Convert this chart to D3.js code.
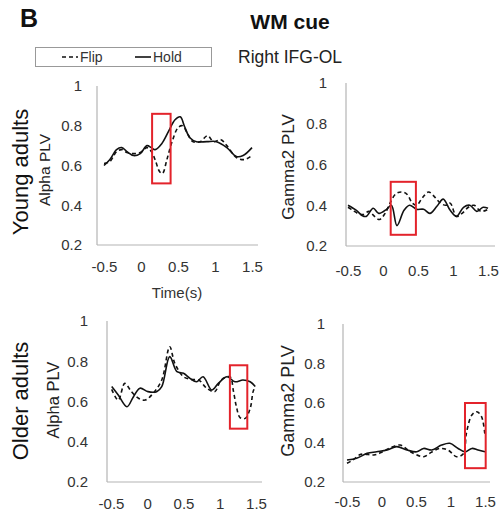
<!DOCTYPE html>
<html>
<head>
<meta charset="utf-8">
<script src="https://cdn.jsdelivr.net/npm/d3@7"></script>
<style>
  body { margin: 0; background: #fff; }
  svg { font-family: "Liberation Sans", Arial, sans-serif; }
</style>
</head>
<body>
<div id="chart"></div>
<script>
// values: [time (s), PLV]
var xTicks = [-0.5, 0, 0.5, 1, 1.5];
var yTicks = [0.2, 0.4, 0.6, 0.8, 1];
var seriesNames = ['Flip', 'Hold'];
var groupNames = ['Young adults', 'Older adults'];
var bandNames = ['Alpha PLV', 'Gamma2 PLV'];

var youngAlphaFlip = [[-0.5,0.61],[-0.42,0.62],[-0.33,0.67],[-0.26,0.68],[-0.19,0.665],[-0.1,0.66],[-0.01,0.665],[0.08,0.69],[0.14,0.67],[0.19,0.63],[0.25,0.57],[0.29,0.56],[0.35,0.63],[0.42,0.72],[0.5,0.79],[0.56,0.80],[0.63,0.76],[0.7,0.72],[0.8,0.72],[0.9,0.75],[0.98,0.72],[1.08,0.73],[1.16,0.70],[1.29,0.64],[1.4,0.63],[1.5,0.65]];
var youngAlphaHold = [[-0.5,0.60],[-0.42,0.63],[-0.33,0.68],[-0.26,0.69],[-0.19,0.67],[-0.1,0.65],[-0.01,0.66],[0.08,0.70],[0.14,0.69],[0.19,0.68],[0.28,0.71],[0.37,0.77],[0.46,0.83],[0.53,0.845],[0.59,0.795],[0.66,0.74],[0.75,0.72],[0.89,0.72],[1.02,0.72],[1.16,0.69],[1.29,0.645],[1.38,0.65],[1.5,0.69]];
var youngGammaFlip = [[-0.5,0.39],[-0.43,0.375],[-0.36,0.36],[-0.28,0.355],[-0.2,0.37],[-0.12,0.345],[-0.05,0.33],[0.03,0.36],[0.1,0.41],[0.18,0.455],[0.26,0.465],[0.34,0.455],[0.42,0.41],[0.48,0.40],[0.56,0.435],[0.65,0.465],[0.74,0.44],[0.82,0.41],[0.9,0.40],[0.96,0.41],[1.05,0.345],[1.13,0.36],[1.22,0.39],[1.3,0.40],[1.4,0.37],[1.5,0.38]];
var youngGammaHold = [[-0.5,0.40],[-0.38,0.375],[-0.3,0.35],[-0.24,0.345],[-0.14,0.385],[-0.06,0.36],[0.05,0.38],[0.12,0.40],[0.2,0.30],[0.3,0.375],[0.38,0.40],[0.48,0.38],[0.58,0.38],[0.67,0.36],[0.77,0.395],[0.86,0.43],[0.96,0.375],[1.05,0.345],[1.15,0.39],[1.24,0.40],[1.34,0.37],[1.43,0.39],[1.5,0.385]];
var olderAlphaFlip = [[-0.49,0.66],[-0.4,0.607],[-0.31,0.69],[-0.22,0.65],[-0.12,0.616],[-0.03,0.607],[0.08,0.64],[0.2,0.707],[0.31,0.872],[0.38,0.79],[0.5,0.723],[0.6,0.71],[0.71,0.707],[0.82,0.666],[0.93,0.649],[1.02,0.707],[1.14,0.723],[1.19,0.649],[1.23,0.574],[1.28,0.52],[1.35,0.516],[1.42,0.566],[1.46,0.649],[1.49,0.674]];
var olderAlphaHold = [[-0.49,0.674],[-0.4,0.632],[-0.28,0.574],[-0.19,0.624],[-0.1,0.666],[0.01,0.649],[0.13,0.649],[0.2,0.674],[0.31,0.823],[0.41,0.748],[0.5,0.74],[0.59,0.715],[0.68,0.698],[0.77,0.723],[0.89,0.657],[0.98,0.69],[1.1,0.723],[1.21,0.698],[1.32,0.707],[1.42,0.698],[1.49,0.674]];
var olderGammaFlip = [[-0.5,0.295],[-0.42,0.31],[-0.3,0.34],[-0.11,0.337],[0.0,0.35],[0.11,0.37],[0.27,0.387],[0.42,0.353],[0.61,0.328],[0.72,0.35],[0.85,0.37],[0.97,0.36],[1.09,0.328],[1.19,0.345],[1.23,0.446],[1.31,0.539],[1.38,0.556],[1.45,0.531],[1.5,0.435]];
var olderGammaHold = [[-0.5,0.311],[-0.36,0.32],[-0.21,0.345],[-0.07,0.353],[0.08,0.362],[0.22,0.379],[0.37,0.362],[0.51,0.353],[0.61,0.37],[0.73,0.362],[0.87,0.387],[0.99,0.396],[1.11,0.37],[1.21,0.353],[1.31,0.37],[1.4,0.362],[1.5,0.353]];

// highlighted windows: [t0, t1, plv0, plv1]
var youngAlphaBox = [0.15, 0.4, 0.51, 0.86];
var youngGammaBox = [0.11, 0.47, 0.255, 0.515];
var olderAlphaBox = [1.14, 1.38, 0.465, 0.78];
var olderGammaBox = [1.21, 1.51, 0.27, 0.6];

var svg = d3.select('#chart').append('svg')
    .attr('width', 503)
    .attr('height', 514);

var panels = [
  {flip: youngAlphaFlip, hold: youngAlphaHold, box: youngAlphaBox, band: bandNames[0],
   ax: 97, axEnd: 258, xr: [104, 252], yr: [245, 86], tickPad: 15, xLabY: 273,
   bandX: 44, bandY: 170, bandSize: 15.5, time: true},
  {flip: youngGammaFlip, hold: youngGammaHold, box: youngGammaBox, band: bandNames[1],
   ax: 346, axEnd: 495, xr: [348, 488], yr: [246, 83], tickPad: 19, xLabY: 277,
   bandX: 288, bandY: 167, bandSize: 17, time: false},
  {flip: olderAlphaFlip, hold: olderAlphaHold, box: olderAlphaBox, band: bandNames[0],
   ax: 107, axEnd: 262, xr: [111, 256], yr: [482, 321], tickPad: 19, xLabY: 510,
   bandX: 53, bandY: 400, bandSize: 16.5, time: false},
  {flip: olderGammaFlip, hold: olderGammaHold, box: olderGammaBox, band: bandNames[1],
   ax: 343, axEnd: 490, xr: [347, 485], yr: [482, 324], tickPad: 18, xLabY: 508,
   bandX: 288, bandY: 401, bandSize: 18, time: false}
];

function drawPanel(p) {
  var x = d3.scaleLinear().domain([-0.5, 1.5]).range(p.xr);
  var y = d3.scaleLinear().domain([0.2, 1]).range(p.yr);
  var g = svg.append('g');

  // axis lines (Excel style, light grey, no tick marks)
  g.append('line').attr('x1', p.ax).attr('x2', p.ax)
    .attr('y1', y(1)).attr('y2', y(0.2))
    .attr('stroke', '#b4b4b4').attr('stroke-width', 1.2);
  g.append('line').attr('x1', p.ax).attr('x2', p.axEnd)
    .attr('y1', y(0.2)).attr('y2', y(0.2))
    .attr('stroke', '#b4b4b4').attr('stroke-width', 1.2);

  var yAxis = d3.axisLeft(y).tickValues(yTicks).tickSize(0)
    .tickPadding(p.tickPad).tickFormat(function(d){ return String(d); });
  var ya = g.append('g').attr('transform', 'translate(' + p.ax + ',0)').call(yAxis);
  ya.select('.domain').remove();
  ya.selectAll('text').attr('font-size', 15).attr('fill', '#333')
    .attr('font-family', '"Liberation Sans", Arial, sans-serif');

  var xAxis = d3.axisBottom(x).tickValues(xTicks).tickSize(0)
    .tickPadding(0).tickFormat(function(d){ return String(d); });
  var xa = g.append('g').attr('transform', 'translate(0,' + (p.xLabY - 12) + ')').call(xAxis);
  xa.select('.domain').remove();
  xa.selectAll('text').attr('font-size', 15).attr('fill', '#333')
    .attr('font-family', '"Liberation Sans", Arial, sans-serif');

  var line = d3.line()
    .x(function(d){ return x(d[0]); })
    .y(function(d){ return y(d[1]); })
    .curve(d3.curveCatmullRom.alpha(0.5));

  g.append('path').datum(p.hold).attr('d', line)
    .attr('fill', 'none').attr('stroke', '#111').attr('stroke-width', 1.6);
  g.append('path').datum(p.flip).attr('d', line)
    .attr('fill', 'none').attr('stroke', '#111').attr('stroke-width', 1.6)
    .attr('stroke-dasharray', '4,3');

  var b = p.box;
  g.append('rect')
    .attr('x', x(b[0])).attr('y', y(b[3]))
    .attr('width', x(b[1]) - x(b[0])).attr('height', y(b[2]) - y(b[3]))
    .attr('fill', 'none').attr('stroke', '#e3232b').attr('stroke-width', 2);

  g.append('text')
    .attr('transform', 'translate(' + p.bandX + ',' + p.bandY + ') rotate(-90)')
    .attr('text-anchor', 'middle').attr('dominant-baseline', 'central')
    .attr('font-size', p.bandSize).attr('fill', '#222')
    .text(p.band);

  if (p.time) {
    g.append('text').attr('x', 177).attr('y', 298)
      .attr('text-anchor', 'middle').attr('font-size', 15).attr('fill', '#333')
      .text('Time(s)');
  }
}

panels.forEach(drawPanel);

// group labels
svg.append('text')
  .attr('transform', 'translate(20,172) rotate(-90)')
  .attr('text-anchor', 'middle').attr('dominant-baseline', 'central')
  .attr('font-size', 22).attr('fill', '#111')
  .text(groupNames[0]);
svg.append('text')
  .attr('transform', 'translate(20,401) rotate(-90)')
  .attr('text-anchor', 'middle').attr('dominant-baseline', 'central')
  .attr('font-size', 22).attr('fill', '#111')
  .text(groupNames[1]);

// header
svg.append('text').attr('x', 20).attr('y', 27)
  .attr('font-size', 25).attr('font-weight', 'bold').attr('fill', '#111').text('B');
svg.append('text').attr('x', 290).attr('y', 29).attr('text-anchor', 'middle')
  .attr('font-size', 21).attr('font-weight', 'bold').attr('fill', '#111').text('WM cue');
svg.append('text').attr('x', 238).attr('y', 63)
  .attr('font-size', 17.5).attr('fill', '#222').text('Right IFG-OL');

// legend
var lg = svg.append('g');
lg.append('rect').attr('x', 35.5).attr('y', 47.5).attr('width', 176).attr('height', 19)
  .attr('fill', '#fff').attr('stroke', '#999').attr('stroke-width', 1);
var legendItems = [
  {name: seriesNames[0], x: 62, dash: '4,3'},
  {name: seriesNames[1], x: 135, dash: null}
];
legendItems.forEach(function(it){
  lg.append('line').attr('x1', it.x).attr('x2', it.x + 16).attr('y1', 57).attr('y2', 57)
    .attr('stroke', '#111').attr('stroke-width', 1.6)
    .attr('stroke-dasharray', it.dash);
  lg.append('text').attr('x', it.x + 18).attr('y', 62)
    .attr('font-size', 14).attr('fill', '#333').text(it.name);
});
</script>
</body>
</html>
